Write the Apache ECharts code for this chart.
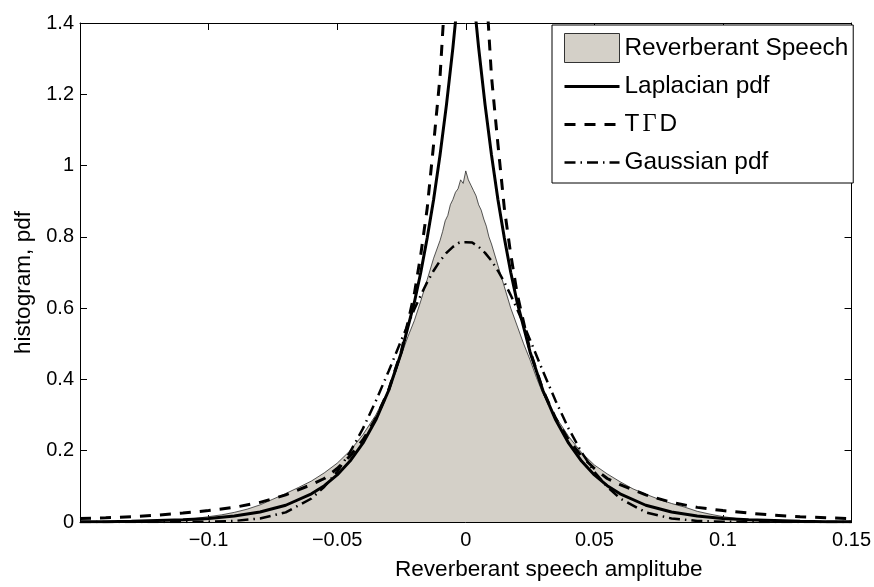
<!DOCTYPE html>
<html><head><meta charset="utf-8">
<script src="https://cdn.jsdelivr.net/npm/echarts@6/dist/echarts.min.js"></script>
<style>html,body{margin:0;padding:0;background:#fff}#c{width:874px;height:587px}</style>
</head><body><div id="c"></div>
<script>
// ---- data ----
const xTickValues = [-0.15, -0.1, -0.05, 0, 0.05, 0.1, 0.15];
const yTickValues = [0, 0.2, 0.4, 0.6, 0.8, 1, 1.2, 1.4];
const seriesNames = ['Reverberant Speech', 'Laplacian pdf', 'TGD', 'Gaussian pdf'];

// histogram (Reverberant Speech)
const histX = [-0.15,-0.14,-0.13,-0.12,-0.115,-0.11,-0.105,-0.1,-0.095,-0.09,-0.085,-0.08,-0.075,-0.07,-0.065,-0.06,-0.055,-0.05,-0.045,-0.04,-0.035,-0.03,-0.0275,-0.025,-0.0225,-0.02,-0.0175,-0.015,-0.0125,-0.01,-0.009,-0.008,-0.007,-0.006,-0.005,-0.004,-0.003,-0.002,-0.001,0,0.001,0.002,0.003,0.004,0.005,0.006,0.007,0.008,0.009,0.01,0.0125,0.015,0.0175,0.02,0.0225,0.025,0.0275,0.03,0.035,0.04,0.045,0.05,0.055,0.06,0.065,0.07,0.075,0.08,0.085,0.09,0.095,0.1,0.105,0.11,0.115,0.12,0.13,0.14,0.15];
const histY = [0,0.001,0.002,0.003,0.005,0.007,0.010,0.015,0.020,0.027,0.036,0.048,0.064,0.080,0.097,0.115,0.138,0.165,0.200,0.245,0.300,0.370,0.415,0.470,0.520,0.565,0.620,0.680,0.740,0.790,0.815,0.845,0.860,0.890,0.905,0.925,0.935,0.960,0.950,0.985,0.960,0.945,0.930,0.915,0.890,0.875,0.850,0.830,0.800,0.780,0.720,0.660,0.600,0.550,0.500,0.455,0.405,0.360,0.295,0.240,0.195,0.160,0.135,0.113,0.093,0.078,0.064,0.052,0.042,0.030,0.022,0.015,0.010,0.006,0.004,0.003,0.002,0.001,0];

// shared x positions for the fitted curves
const curveX = [-0.15,-0.14,-0.13,-0.12,-0.11,-0.1,-0.09,-0.08,-0.07,-0.06,-0.055,-0.05,-0.045,-0.04,-0.035,-0.03,-0.025,-0.02,-0.0175,-0.015,-0.0125,-0.01,-0.0075,-0.005,-0.0025,0,0.0025,0.005,0.0075,0.01,0.0125,0.015,0.0175,0.02,0.025,0.03,0.035,0.04,0.045,0.05,0.055,0.06,0.07,0.08,0.09,0.1,0.11,0.12,0.13,0.14,0.15];
const laplaceY = [0.001,0.001,0.002,0.004,0.006,0.010,0.017,0.028,0.047,0.079,0.102,0.132,0.171,0.221,0.286,0.369,0.477,0.616,0.700,0.797,0.905,1.030,1.171,1.331,1.513,1.720,1.513,1.331,1.171,1.030,0.905,0.797,0.700,0.616,0.477,0.369,0.286,0.221,0.171,0.132,0.102,0.079,0.047,0.028,0.017,0.010,0.006,0.004,0.002,0.001,0.001];
const tgdY = [0.0095,0.012,0.015,0.019,0.025,0.032,0.041,0.055,0.076,0.105,0.122,0.150,0.185,0.230,0.290,0.370,0.480,0.640,0.750,0.880,1.060,1.250,1.550,2.200,3.400,4.500,3.400,2.200,1.550,1.250,1.060,0.880,0.750,0.640,0.480,0.370,0.290,0.230,0.185,0.150,0.122,0.105,0.076,0.055,0.041,0.032,0.025,0.019,0.015,0.012,0.0095];
const gaussY = [0,0,0,0,0,0.001,0.003,0.010,0.027,0.066,0.099,0.141,0.196,0.262,0.339,0.423,0.511,0.597,0.636,0.673,0.705,0.733,0.755,0.772,0.784,0.785,0.784,0.772,0.755,0.733,0.705,0.673,0.636,0.597,0.511,0.423,0.339,0.262,0.196,0.141,0.099,0.066,0.027,0.010,0.003,0.001,0,0,0,0,0];

const pairs = (xs, ys) => xs.map((x, i) => [x, ys[i]]);
const fmt = v => {
  if (Math.abs(v + 0.15) < 1e-9) return '';
  const s = String(parseFloat(v.toFixed(4)));
  return s.replace('-', '\u2212');
};
const FONT = '"Liberation Sans", Arial, Helvetica, sans-serif';
const LEG = 24.4;

const chart = echarts.init(document.getElementById('c'), null, {renderer: 'canvas'});
const boxAxisX = {
  type: 'value', min: -0.15, max: 0.15, interval: 0.05,
  axisLine: {show: true, onZero: false, lineStyle: {color: '#000', width: 1}},
  axisTick: {show: true, inside: true, length: 7, lineStyle: {color: '#000', width: 1}},
  splitLine: {show: false}
};
const boxAxisY = {
  type: 'value', min: 0, max: 1.4, interval: 0.2,
  axisLine: {show: true, onZero: false, lineStyle: {color: '#000', width: 1}},
  axisTick: {show: true, inside: true, length: 7, lineStyle: {color: '#000', width: 1}},
  splitLine: {show: false}
};
const hiddenMarker = {opacity: 0, color: 'rgba(0,0,0,0)', borderWidth: 0};
chart.setOption({
  animation: false,
  backgroundColor: '#fff',
  grid: {left: 80, right: 22, top: 23, bottom: 65, containLabel: false},
  xAxis: [
    Object.assign({}, boxAxisX, {
      position: 'bottom',
      name: 'Reverberant speech amplitube', nameLocation: 'middle', nameGap: 36,
      nameTextStyle: {fontFamily: FONT, fontSize: 22.6, color: '#000', padding: [0, 0, 0, 166]},
      axisLabel: {show: true, margin: 8, fontFamily: FONT, fontSize: 20, color: '#000', formatter: fmt}
    }),
    Object.assign({}, boxAxisX, {position: 'top', axisLabel: {show: false}})
  ],
  yAxis: [
    Object.assign({}, boxAxisY, {
      position: 'left',
      name: 'histogram, pdf', nameLocation: 'middle', nameGap: 44,
      nameTextStyle: {fontFamily: FONT, fontSize: 22.6, color: '#000', padding: [0, 20, 0, 0]},
      axisLabel: {show: true, margin: 6, fontFamily: FONT, fontSize: 20, color: '#000',
        formatter: v => String(parseFloat(v.toFixed(4)))}
    }),
    Object.assign({}, boxAxisY, {position: 'right', axisLabel: {show: false}})
  ],
  legend: {
    orient: 'vertical', left: 552, top: 25,
    backgroundColor: '#fff', borderColor: '#000', borderWidth: 1,
    padding: [8, 5, 6, 11], itemWidth: 55, itemHeight: 29, itemGap: 9,
    formatter: name => name === 'TGD' ? '{a|T}{g|\u0393}{a|D}' : name,
    textStyle: {fontFamily: FONT, fontSize: LEG, color: '#000', lineHeight: 29,
      rich: {
        a: {fontFamily: FONT, fontSize: LEG, color: '#000', lineHeight: 29},
        g: {fontFamily: '"Liberation Serif", "DejaVu Serif", serif', fontSize: LEG, color: '#000', lineHeight: 29, padding: [0, 3, 0, 3]}
      }},
    data: [
      {name: seriesNames[0], icon: 'rect', itemStyle: {color: '#d4d0c8', borderColor: '#333', borderWidth: 1}},
      {name: seriesNames[1], itemStyle: hiddenMarker, lineStyle: {width: 3}},
      {name: seriesNames[2], itemStyle: hiddenMarker, lineStyle: {width: 3}},
      {name: seriesNames[3], itemStyle: hiddenMarker, lineStyle: {width: 2.5}}
    ]
  },
  series: [
    {
      name: seriesNames[0], type: 'line', data: pairs(histX, histY),
      symbol: 'none', z: 1,
      lineStyle: {color: '#111', width: 0.7},
      itemStyle: {color: '#d4d0c8'},
      areaStyle: {color: '#d4d0c8', opacity: 1}
    },
    {
      name: seriesNames[1], type: 'line', data: pairs(curveX, laplaceY),
      symbol: 'none', z: 3, clip: true,
      lineStyle: {color: '#000', width: 3, type: 'solid'},
      itemStyle: {color: '#000'}
    },
    {
      name: seriesNames[2], type: 'line', data: pairs(curveX, tgdY),
      symbol: 'none', z: 4, clip: true,
      lineStyle: {color: '#000', width: 3, type: [11, 9]},
      itemStyle: {color: '#000'}
    },
    {
      name: seriesNames[3], type: 'line', data: pairs(curveX, gaussY),
      symbol: 'none', z: 2, clip: true,
      lineStyle: {color: '#000', width: 2.5, type: [11, 5, 1.5, 5]},
      itemStyle: {color: '#000'}
    }
  ]
});
</script>
</body></html>
